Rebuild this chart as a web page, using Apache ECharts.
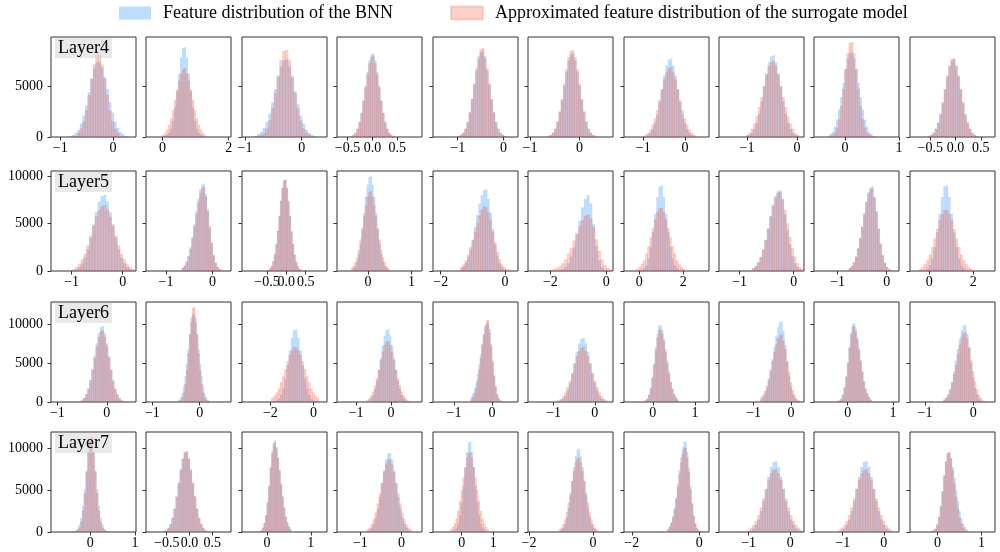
<!DOCTYPE html>
<html>
<head>
<meta charset="utf-8">
<script src="https://cdn.jsdelivr.net/npm/echarts@6/dist/echarts.min.js"></script>
<style>
  html, body { margin: 0; padding: 0; background: #fff; }
  #chart { width: 1000px; height: 552px; }
</style>
</head>
<body>
<div id="chart"></div>
<script>
// rows = layers, 10 panels each
const layerNames = ['Layer4', 'Layer5', 'Layer6', 'Layer7'];
const yMax = [9800, 10530, 12800, 12000];
const yTicks = [[0, 5000], [0, 5000, 10000], [0, 5000, 10000], [0, 5000, 10000]];

// x range of every panel
const xMin = [
  [-1.176, -0.5, -1.054, -0.712, -1.54, -1.04, -1.46, -1.56, -0.576, -0.9],
  [-1.405, -1.43, -1.145, -0.71, -2.24, -2.8, -0.7, -1.38, -1.48, -0.87],
  [-1.13, -1.135, -3.31, -1.55, -1.55, -1.62, -0.68, -1.93, -0.74, -1.31],
  [-0.87, -0.955, -0.57, -1.57, -0.905, -2.03, -2.23, -1.71, -1.7, -0.63]
];
const xMax = [
  [0.436, 2.07, 0.446, 0.996, 0.32, 0.68, 0.576, 0.14, 1.0, 0.78],
  [0.26, 0.4, 1.05, 1.24, 0.4, 0.24, 3.17, 0.19, 0.25, 2.98],
  [0.59, 0.66, 0.62, 0.89, 0.68, 0.44, 1.33, 0.35, 1.13, 0.45],
  [1.02, 0.91, 1.37, 0.5, 1.78, 0.62, 0.29, 0.33, 0.37, 1.31]
];
const xTicks = [
  [[-1, 0], [0, 2], [-1, 0], [-0.5, 0, 0.5], [-1, 0], [-1, 0], [-1, 0], [-1, 0], [0, 1], [-0.5, 0, 0.5]],
  [[-1, 0], [-1, 0], [-0.5, 0, 0.5], [0, 1], [-2, 0], [-2, 0], [0, 2], [-1, 0], [-1, 0], [0, 2]],
  [[-1, 0], [-1, 0], [-2, 0], [-1, 0], [-1, 0], [-1, 0], [0, 1], [-1, 0], [0, 1], [-1, 0]],
  [[0, 1], [-0.5, 0, 0.5], [0, 1], [-1, 0], [0, 1], [-2, 0], [-2, 0], [-1, 0], [-1, 0], [0, 1]]
];

// histogram bins: first edge and width of each panel
const binStart = [
  [-0.83, -0.01, -0.84, -0.44, -0.998, -0.645, -0.965, -1.018, -0.33, -0.545],
  [-0.985, -0.662, -0.48, -0.39, -1.39, -2.0, -0.13, -0.765, -0.772, -0.46],
  [-0.562, -0.482, -1.95, -0.705, -0.56, -0.905, -0.27, -0.82, -0.266, -0.62],
  [-0.42, -0.575, -0.215, -0.85, -0.355, -1.065, -0.948, -1.03, -1.11, -0.19]
];
const binWidth = [
  [0.05, 0.06, 0.05, 0.04, 0.048, 0.045, 0.055, 0.048, 0.04, 0.045],
  [0.055, 0.042, 0.04, 0.04, 0.07, 0.1, 0.1, 0.045, 0.042, 0.11],
  [0.042, 0.032, 0.1, 0.055, 0.04, 0.055, 0.04, 0.05, 0.036, 0.04],
  [0.04, 0.045, 0.035, 0.05, 0.055, 0.055, 0.048, 0.06, 0.06, 0.04]
];

// counts per bin, in hundreds
const layer4Bnn = [
  [1,2,4,7,13,21,31,44,57,67,73,74,68,59,47,34,24,15,9,5,3,1],
  [0,1,2,4,8,16,29,45,62,78,87,88,78,62,45,29,16,8,4,2,1,0],
  [1,3,5,9,15,23,34,47,59,69,75,76,69,58,45,32,21,13,7,4,2,1],
  [1,2,4,8,15,24,36,50,64,75,81,82,75,64,50,36,24,15,8,4,2,1],
  [1,2,4,8,15,24,37,51,65,77,83,84,77,65,51,37,24,15,8,4,2,1],
  [1,2,4,8,15,24,36,50,64,75,81,82,75,64,50,36,24,15,8,4,2,1],
  [1,2,4,8,14,22,34,47,60,70,76,77,70,60,47,34,22,14,8,4,2,1],
  [1,2,4,8,14,23,35,49,62,73,79,80,73,62,49,35,23,14,8,4,2,1],
  [1,3,5,10,17,27,39,53,67,77,82,83,77,67,53,39,27,17,10,5,3,1],
  [1,2,4,8,14,22,33,46,59,69,75,76,69,59,46,33,22,14,8,4,2,1]
];
const layer4Sur = [
  [0,1,1,4,8,15,26,41,57,71,80,81,71,57,41,26,15,8,4,1,1,0],
  [2,4,7,12,18,26,36,46,55,62,66,67,62,55,46,36,26,18,12,7,4,2],
  [0,1,2,4,8,16,28,43,60,75,84,85,75,60,43,28,16,8,4,2,1,0],
  [1,2,4,8,14,23,35,48,61,72,78,79,72,61,48,35,23,14,8,4,2,1],
  [1,2,4,8,14,24,37,52,67,79,86,87,79,67,52,37,24,14,8,4,2,1],
  [1,2,4,8,15,25,37,52,66,78,84,85,78,66,52,37,25,15,8,4,2,1],
  [2,4,7,12,18,26,36,46,56,63,67,68,63,56,46,36,26,18,12,7,4,2],
  [2,4,8,13,20,29,39,50,61,69,73,74,69,61,50,39,29,20,13,8,4,2],
  [0,1,2,4,9,17,30,47,66,82,92,93,82,66,47,30,17,9,4,2,1,0],
  [1,2,4,8,14,22,34,47,60,70,76,77,70,60,47,34,22,14,8,4,2,1]
];
const layer5Bnn = [
  [1,2,4,8,14,23,35,49,62,73,79,80,73,62,49,35,23,14,8,4,2,1],
  [3,6,10,16,25,36,49,63,76,86,91,92,81,65,47,30,17,9,4,2,1,0],
  [1,2,5,10,17,28,42,58,74,88,95,96,88,74,58,42,28,17,10,5,2,1],
  [1,3,5,10,18,29,44,61,78,91,99,100,91,78,61,44,29,18,10,5,3,1],
  [3,5,9,15,23,33,46,59,71,80,85,86,76,61,44,28,16,8,4,2,1,0],
  [0,0,0,1,2,4,8,15,25,38,53,67,76,80,71,49,26,11,4,1,0,0],
  [0,0,1,3,6,13,25,41,60,78,89,90,78,60,41,25,13,6,3,1,0,0],
  [3,5,9,15,23,33,45,58,70,79,84,85,75,60,43,28,16,8,4,2,1,0],
  [3,5,9,15,24,35,47,61,73,83,88,89,78,63,45,29,17,9,4,2,1,0],
  [0,0,1,3,6,13,25,41,60,78,89,90,78,60,41,25,13,6,3,1,0,0]
];
const layer5Sur = [
  [2,4,7,12,18,27,37,47,57,64,68,69,64,57,47,37,27,18,12,7,4,2],
  [3,5,9,15,23,34,47,60,72,82,87,88,78,62,45,29,16,8,4,2,1,0],
  [1,3,5,10,18,28,42,58,74,87,95,96,87,73,57,41,28,17,9,5,2,1],
  [3,5,9,14,22,33,45,57,69,78,83,84,78,69,57,45,33,22,14,9,5,3],
  [4,7,11,17,25,32,41,50,58,64,68,67,62,53,41,30,20,12,7,4,2,1],
  [1,2,3,5,8,12,18,24,32,40,47,53,58,59,55,46,33,21,12,6,3,1],
  [2,4,7,11,18,26,35,45,54,62,66,66,62,54,45,35,26,18,11,7,4,2],
  [3,5,9,14,22,32,44,57,68,77,82,83,76,64,50,36,24,15,8,4,2,1],
  [3,5,9,15,23,34,46,59,72,81,86,87,77,62,44,28,16,8,4,2,1,0],
  [2,4,7,11,17,25,34,44,53,60,64,64,60,53,44,34,25,17,11,7,4,2]
];
const layer6Bnn = [
  [1,2,5,10,17,28,42,59,75,88,96,97,88,75,59,42,28,17,10,5,2,1],
  [1,3,6,11,20,33,49,68,87,102,111,112,102,87,68,49,33,20,11,6,3,1],
  [0,1,2,4,9,17,30,47,66,82,92,93,82,66,47,30,17,9,4,2,1,0],
  [1,2,5,9,17,27,41,56,72,85,92,93,85,72,56,41,27,17,9,5,2,1],
  [7,11,17,25,36,48,61,75,87,96,100,101,89,71,51,33,19,10,4,2,1,0],
  [1,2,4,8,15,24,36,50,64,75,81,82,75,64,50,36,24,15,8,4,2,1],
  [0,1,2,4,10,18,32,50,70,87,98,99,92,81,68,53,39,26,17,10,6,3],
  [3,6,11,18,28,40,55,70,85,96,102,103,91,73,52,33,19,10,5,2,1,0],
  [0,1,2,4,10,19,33,51,71,89,100,101,94,83,69,54,39,27,17,11,6,3],
  [3,6,10,17,26,39,53,68,81,92,98,99,87,70,50,32,18,10,4,2,1,0]
];
const layer6Sur = [
  [1,3,5,10,17,28,41,56,71,83,90,91,83,71,56,40,26,16,9,5,2,1],
  [0,1,2,5,12,23,40,62,86,108,120,122,108,86,62,40,23,12,5,2,1,0],
  [5,8,12,17,25,33,42,52,60,66,70,70,66,60,52,42,33,25,17,12,8,5],
  [2,5,8,13,21,30,41,53,64,73,77,78,73,64,53,41,30,21,13,8,5,2],
  [3,6,11,18,28,41,56,72,86,98,104,105,93,74,53,34,20,10,5,2,1,0],
  [2,4,7,12,19,27,37,48,58,65,69,70,65,58,48,37,27,19,12,7,4,2],
  [0,1,2,4,9,17,30,47,66,82,92,93,87,77,63,49,36,25,16,10,6,3],
  [6,9,14,21,30,41,52,64,74,81,85,86,78,67,52,38,25,15,9,4,2,1],
  [0,1,2,4,9,18,32,49,69,86,96,97,90,80,66,52,38,26,17,10,6,3],
  [3,5,9,15,24,35,47,61,73,83,88,89,81,69,54,39,26,16,9,5,2,1]
];
const layer7Bnn = [
  [1,1,2,4,9,17,31,51,74,95,108,110,95,74,51,31,17,9,4,2,1,1],
  [1,2,5,10,17,28,42,58,74,88,95,96,88,74,58,42,28,17,10,5,2,1],
  [0,1,2,5,11,20,36,56,78,97,108,110,102,90,75,58,43,29,19,12,7,4],
  [1,2,5,10,17,28,42,58,74,87,94,95,87,74,58,42,28,17,10,5,2,1],
  [0,1,2,5,10,20,35,55,77,96,107,109,96,77,55,35,20,10,5,2,1,0],
  [1,3,5,10,18,29,44,61,78,91,99,100,91,78,61,44,29,18,10,5,3,1],
  [3,7,11,19,29,42,58,74,90,102,108,109,96,77,55,35,20,10,5,2,1,0],
  [1,2,4,9,15,25,37,52,66,78,84,85,78,66,52,37,25,15,9,4,2,1],
  [1,2,4,9,15,25,37,52,66,78,84,85,78,66,52,37,25,15,9,4,2,1],
  [0,1,2,4,9,18,31,48,67,84,94,95,89,78,65,50,37,25,16,10,6,3]
];
const layer7Sur = [
  [0,0,0,2,5,12,25,46,72,96,112,114,96,72,46,25,12,5,2,0,0,0],
  [1,2,5,9,17,28,43,59,75,88,96,97,88,75,59,43,28,17,9,5,2,1],
  [0,1,2,5,10,20,35,54,76,94,105,107,100,88,73,57,42,29,18,11,6,3],
  [3,5,9,15,23,34,46,59,72,81,86,87,81,72,59,46,34,23,15,9,5,3],
  [3,6,10,16,25,37,50,65,78,89,94,95,89,78,65,50,37,25,16,10,6,3],
  [3,5,9,15,24,35,47,61,73,83,88,89,83,73,61,47,35,24,15,9,5,3],
  [3,6,11,17,27,39,54,69,83,94,100,101,89,71,51,33,19,10,4,2,1,0],
  [2,5,8,13,20,29,40,51,62,70,74,75,70,62,51,40,29,20,13,8,5,2],
  [2,5,8,13,20,29,40,51,62,70,74,75,70,62,51,40,29,20,13,8,5,2],
  [0,1,2,4,9,18,31,49,68,85,95,96,88,74,58,42,28,17,10,5,2,1]
];

const bnnRows = [layer4Bnn, layer5Bnn, layer6Bnn, layer7Bnn];
const surRows = [layer4Sur, layer5Sur, layer6Sur, layer7Sur];

const BNN_NAME = 'Feature distribution of the BNN';
const SUR_NAME = 'Approximated feature distribution of the surrogate model';
const FONT = 'Liberation Serif';
const rowTop = [37, 171, 302, 432];

const chart = echarts.init(document.getElementById('chart'));

// turn bin counts into [x0, x1, count] items
function toBins(counts, start, width) {
  return counts.map((c, k) => [start + k * width, start + (k + 1) * width, c * 100]);
}

function renderBar(params, api) {
  const p0 = api.coord([api.value(0), api.value(2)]);
  const p1 = api.coord([api.value(1), 0]);
  return {
    type: 'rect',
    shape: { x: p0[0], y: p0[1], width: p1[0] - p0[0], height: p1[1] - p0[1] },
    style: api.style()
  };
}

function fmtTick(v, ticks) {
  const half = ticks.some(t => t % 1 !== 0);
  const s = half ? v.toFixed(1) : String(Math.round(v));
  return s.replace('-', '\u2212');
}

// x axis for one grid; ticks split over two axes so that close labels are not dropped
function makeXAxis(idx, r, c, ticks) {
  return {
    type: 'value', gridIndex: idx, position: 'bottom', offset: 0,
    min: xMin[r][c], max: xMax[r][c],
    axisLine: { show: false, onZero: false },
    splitLine: { show: false },
    axisTick: { show: true, length: 3.5, customValues: ticks, lineStyle: { color: '#333' } },
    axisLabel: {
      customValues: ticks, margin: 4, color: '#000', fontFamily: FONT, fontSize: 14,
      hideOverlap: false, showMinLabel: true, showMaxLabel: true,
      formatter: v => fmtTick(v, xTicks[r][c])
    }
  };
}

const grids = [], xAxes = [], yAxes = [], series = [], titles = [];

for (let r = 0; r < 4; r++) {
  titles.push({
    text: layerNames[r],
    left: 55,
    top: rowTop[r] + 1,
    padding: [1, 3, 1, 3],
    backgroundColor: 'rgba(211,211,211,0.5)',
    textStyle: { fontFamily: FONT, fontSize: 18, fontWeight: 'normal', color: '#000' }
  });
  for (let c = 0; c < 10; c++) {
    const idx = r * 10 + c;
    const ticks = xTicks[r][c];
    grids.push({
      left: Math.round(51 + c * 95.42), top: rowTop[r], width: 85, height: 100,
      show: true, borderColor: '#333', borderWidth: 1
    });
    xAxes.push(makeXAxis(idx, r, c, ticks.filter((t, k) => k % 2 === 0)));
    xAxes.push(makeXAxis(idx, r, c, ticks.filter((t, k) => k % 2 === 1)));
    yAxes.push({
      type: 'value', gridIndex: idx, min: 0, max: yMax[r],
      axisLine: { show: false, onZero: false },
      splitLine: { show: false },
      axisTick: { show: true, length: 3.5, customValues: yTicks[r], lineStyle: { color: '#333' } },
      axisLabel: {
        show: c === 0, customValues: yTicks[r], margin: 8, color: '#000',
        fontFamily: FONT, fontSize: 14, formatter: v => String(v)
      }
    });
    series.push({
      name: BNN_NAME, type: 'custom', xAxisIndex: idx * 2, yAxisIndex: idx,
      renderItem: renderBar, clip: true,
      itemStyle: { color: 'rgba(30,144,255,0.3)' },
      encode: { x: [0, 1], y: 2 },
      data: toBins(bnnRows[r][c], binStart[r][c], binWidth[r][c])
    });
    series.push({
      name: SUR_NAME, type: 'custom', xAxisIndex: idx * 2, yAxisIndex: idx,
      renderItem: renderBar, clip: true,
      itemStyle: { color: 'rgba(255,99,71,0.3)', borderColor: 'rgba(205,70,60,0.18)', borderWidth: 0.5 },
      encode: { x: [0, 1], y: 2 },
      data: toBins(surRows[r][c], binStart[r][c], binWidth[r][c])
    });
  }
}

chart.setOption({
  animation: false,
  backgroundColor: '#fff',
  title: titles,
  legend: {
    data: [BNN_NAME, SUR_NAME],
    left: 119, top: 4, padding: 0,
    icon: 'rect', itemWidth: 32, itemHeight: 13, itemGap: 57,
    textStyle: { fontFamily: FONT, fontSize: 18, color: '#000', padding: [0, 0, 0, 7] }
  },
  grid: grids,
  xAxis: xAxes,
  yAxis: yAxes,
  series: series
});
</script>
</body>
</html>
